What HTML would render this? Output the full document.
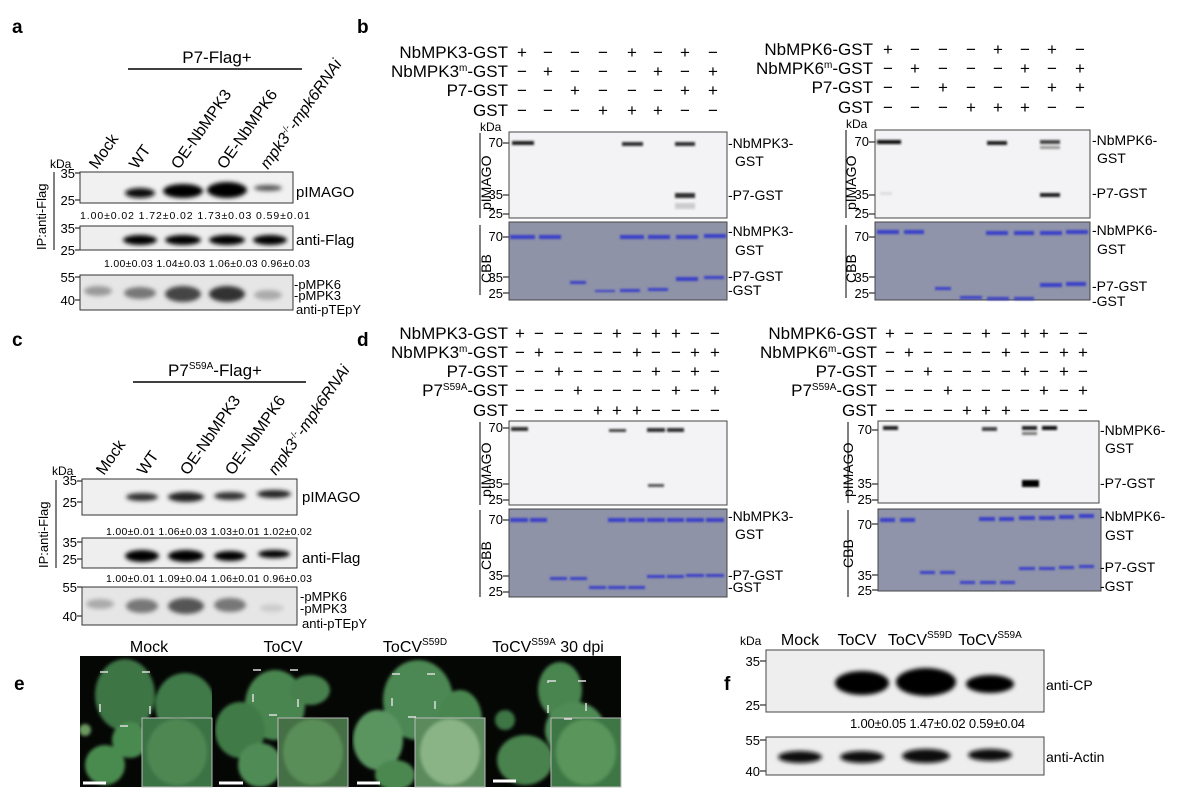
<!DOCTYPE html>
<html><head><meta charset="utf-8"><style>
html,body{margin:0;padding:0;background:#fff}
svg{display:block;font-family:"Liberation Sans",Arial,sans-serif}
</style></head><body>
<svg width="1191" height="790" viewBox="0 0 1191 790" xmlns="http://www.w3.org/2000/svg">
<defs>
<filter id="b" x="-50%" y="-200%" width="200%" height="500%"><feGaussianBlur stdDeviation="2"/></filter>
<filter id="b1" x="-50%" y="-200%" width="200%" height="500%"><feGaussianBlur stdDeviation="1"/></filter>
<filter id="lf" x="-20%" y="-20%" width="140%" height="140%"><feGaussianBlur stdDeviation="1.5"/></filter>
<clipPath id="c1"><rect x="80" y="656" width="132" height="131"/></clipPath>
<clipPath id="c2"><rect x="215" y="656" width="133" height="131"/></clipPath>
<clipPath id="c3"><rect x="352" y="656" width="133" height="131"/></clipPath>
<clipPath id="c4"><rect x="489" y="656" width="132" height="131"/></clipPath>
</defs>
<g font-weight="bold" font-size="19">
<text x="12" y="33">a</text><text x="357" y="33">b</text>
<text x="12" y="346">c</text><text x="357" y="346">d</text>
<text x="14" y="690">e</text><text x="724" y="690">f</text>
</g>

<!-- ===== Panel a ===== -->
<text x="217" y="63" font-size="17" text-anchor="middle">P7-Flag+</text>
<line x1="128" y1="69" x2="302" y2="69" stroke="#000" stroke-width="1.5"/>
<g font-size="16">
<text transform="translate(97,170) rotate(-55)">Mock</text>
<text transform="translate(137,170) rotate(-55)">WT</text>
<text transform="translate(179,170) rotate(-55)">OE-NbMPK3</text>
<text transform="translate(225,170) rotate(-55)">OE-NbMPK6</text>
<text transform="translate(268,170) rotate(-55)"><tspan font-style="italic">mpk3</tspan><tspan font-size="9" dy="-6">-/-</tspan><tspan dy="6" font-style="italic">-mpk6RNAi</tspan></text>
</g>
<text x="50" y="168" font-size="12">kDa</text>
<text transform="translate(46,250) rotate(-90)" font-size="13">IP:anti-Flag</text>
<line x1="54" y1="172" x2="54" y2="250" stroke="#000"/>
<g font-size="13" text-anchor="end">
<text x="75" y="178">35</text><text x="75" y="205">25</text>
<text x="75" y="233">35</text><text x="75" y="255">25</text>
<text x="75" y="282">55</text><text x="75" y="305">40</text>
</g>
<g stroke="#000"><line x1="75" y1="173" x2="80" y2="173"/><line x1="75" y1="200" x2="80" y2="200"/><line x1="75" y1="228" x2="80" y2="228"/><line x1="75" y1="250" x2="80" y2="250"/><line x1="75" y1="277" x2="80" y2="277"/><line x1="75" y1="300" x2="80" y2="300"/></g>
<rect x="80" y="172" width="213" height="31" fill="#f1f1f1" stroke="#333"/>
<g filter="url(#b)">
<ellipse cx="140" cy="193" rx="15" ry="5" fill="#111"/>
<ellipse cx="183" cy="191" rx="20" ry="7" fill="#000"/>
<ellipse cx="227" cy="190" rx="20" ry="8" fill="#000"/>
<ellipse cx="268" cy="188" rx="14" ry="3" fill="#555"/>
</g>
<text x="296" y="197" font-size="15">pIMAGO</text>
<text x="80" y="219" font-size="10.5" textLength="230">1.00±0.02 1.72±0.02 1.73±0.03 0.59±0.01</text>
<rect x="80" y="226" width="213" height="24" fill="#eee" stroke="#333"/>
<g filter="url(#b)">
<ellipse cx="140" cy="240" rx="17" ry="5" fill="#000"/>
<ellipse cx="183" cy="240" rx="18" ry="5" fill="#000"/>
<ellipse cx="227" cy="240" rx="18" ry="5" fill="#000"/>
<ellipse cx="270" cy="240" rx="17" ry="5" fill="#000"/>
</g>
<text x="296" y="245" font-size="15">anti-Flag</text>
<text x="104" y="267" font-size="10.5" textLength="206">1.00±0.03 1.04±0.03 1.06±0.03 0.96±0.03</text>
<rect x="80" y="275" width="213" height="35" fill="#e6e6e6" stroke="#333"/>
<g filter="url(#b)">
<ellipse cx="98" cy="291" rx="14" ry="5" fill="#999"/>
<ellipse cx="140" cy="293" rx="16" ry="6" fill="#777"/>
<ellipse cx="183" cy="294" rx="18" ry="8" fill="#444"/>
<ellipse cx="227" cy="294" rx="18" ry="8" fill="#333"/>
<ellipse cx="268" cy="295" rx="14" ry="5" fill="#aaa"/>
</g>
<g font-size="13"><text x="294" y="289">-pMPK6</text><text x="294" y="300">-pMPK3</text><text x="296" y="314">anti-pTEpY</text></g>

<!-- ===== Panel c ===== -->
<text x="215" y="376" font-size="17" text-anchor="middle">P7<tspan font-size="10" dy="-7">S59A</tspan><tspan dy="7">-Flag+</tspan></text>
<line x1="133" y1="382" x2="306" y2="382" stroke="#000" stroke-width="1.5"/>
<g font-size="16">
<text transform="translate(104,476) rotate(-55)">Mock</text>
<text transform="translate(145,476) rotate(-55)">WT</text>
<text transform="translate(188,476) rotate(-55)">OE-NbMPK3</text>
<text transform="translate(233,476) rotate(-55)">OE-NbMPK6</text>
<text transform="translate(276,476) rotate(-55)"><tspan font-style="italic">mpk3</tspan><tspan font-size="9" dy="-6">-/-</tspan><tspan dy="6" font-style="italic">-mpk6RNAi</tspan></text>
</g>
<text x="52" y="475" font-size="12">kDa</text>
<text transform="translate(48,568) rotate(-90)" font-size="13">IP:anti-Flag</text>
<line x1="56" y1="480" x2="56" y2="568" stroke="#000"/>
<g font-size="13" text-anchor="end">
<text x="77" y="485">35</text><text x="77" y="507">25</text>
<text x="77" y="547">35</text><text x="77" y="564">25</text>
<text x="77" y="592">55</text><text x="77" y="621">40</text>
</g>
<g stroke="#000"><line x1="77" y1="481" x2="82" y2="481"/><line x1="77" y1="502" x2="82" y2="502"/><line x1="77" y1="542" x2="82" y2="542"/><line x1="77" y1="559" x2="82" y2="559"/><line x1="77" y1="587" x2="82" y2="587"/><line x1="77" y1="616" x2="82" y2="616"/></g>
<rect x="82" y="479" width="215" height="36" fill="#f0f0f0" stroke="#333"/>
<g filter="url(#b)">
<ellipse cx="142" cy="497" rx="16" ry="4" fill="#333"/>
<ellipse cx="186" cy="497" rx="18" ry="5" fill="#222"/>
<ellipse cx="230" cy="496" rx="16" ry="4" fill="#333"/>
<ellipse cx="274" cy="494" rx="17" ry="4" fill="#222"/>
</g>
<text x="302" y="502" font-size="15">pIMAGO</text>
<text x="106" y="535" font-size="10.5" textLength="206">1.00±0.01 1.06±0.03 1.03±0.01 1.02±0.02</text>
<rect x="82" y="538" width="215" height="30" fill="#eee" stroke="#333"/>
<g filter="url(#b)">
<ellipse cx="142" cy="556" rx="17" ry="6" fill="#000"/>
<ellipse cx="186" cy="556" rx="18" ry="6" fill="#000"/>
<ellipse cx="230" cy="556" rx="16" ry="5" fill="#000"/>
<ellipse cx="274" cy="554" rx="16" ry="4" fill="#000"/>
</g>
<text x="302" y="563" font-size="15">anti-Flag</text>
<text x="106" y="582" font-size="10.5" textLength="206">1.00±0.01 1.09±0.04 1.06±0.01 0.96±0.03</text>
<rect x="82" y="587" width="215" height="38" fill="#e6e6e6" stroke="#333"/>
<g filter="url(#b)">
<ellipse cx="100" cy="604" rx="14" ry="5" fill="#aaa"/>
<ellipse cx="142" cy="606" rx="16" ry="7" fill="#777"/>
<ellipse cx="186" cy="606" rx="18" ry="8" fill="#555"/>
<ellipse cx="230" cy="605" rx="16" ry="7" fill="#777"/>
<ellipse cx="272" cy="608" rx="12" ry="4" fill="#ccc"/>
</g>
<g font-size="13"><text x="300" y="601">-pMPK6</text><text x="300" y="613">-pMPK3</text><text x="302" y="628">anti-pTEpY</text></g>

<!-- ===== Panel b left ===== -->
<g font-size="17" text-anchor="end">
<text x="508" y="58">NbMPK3-GST</text>
<text x="508" y="77">NbMPK3<tspan font-size="10" dy="-6">m</tspan><tspan dy="6">-GST</tspan></text>
<text x="508" y="96">P7-GST</text>
<text x="508" y="116">GST</text>
</g>
<g font-size="17" text-anchor="middle">
<text x="522 548 575 603 632 658 685 713" y="58">+−−−+−+−</text>
<text x="522 548 575 603 632 658 685 713" y="77">−+−−−+−+</text>
<text x="522 548 575 603 632 658 685 713" y="96">−−+−−−++</text>
<text x="522 548 575 603 632 658 685 713" y="116">−−−+++−−</text>
</g>
<text x="480" y="131" font-size="12">kDa</text>
<text transform="translate(491,210) rotate(-90)" font-size="14">pIMAGO</text>
<line x1="480" y1="133" x2="480" y2="218" stroke="#000"/>
<text transform="translate(491,283) rotate(-90)" font-size="14">CBB</text>
<line x1="480" y1="225" x2="480" y2="295" stroke="#000"/>
<g font-size="13" text-anchor="end">
<text x="503" y="147">70</text><text x="503" y="199">35</text><text x="503" y="218">25</text>
<text x="503" y="241">70</text><text x="503" y="282">35</text><text x="503" y="298">25</text>
</g>
<g stroke="#000"><line x1="503" y1="143" x2="509" y2="143"/><line x1="503" y1="195" x2="509" y2="195"/><line x1="503" y1="214" x2="509" y2="214"/><line x1="503" y1="237" x2="509" y2="237"/><line x1="503" y1="277" x2="509" y2="277"/><line x1="503" y1="293" x2="509" y2="293"/></g>
<rect x="509" y="132" width="218" height="86" fill="#f3f3f5" stroke="#444"/>
<g filter="url(#b1)">
<rect x="512" y="141" width="22" height="4" fill="#222"/>
<rect x="622" y="142" width="21" height="4" fill="#333"/>
<rect x="675" y="142" width="20" height="4" fill="#333"/>
<rect x="675" y="193" width="20" height="5" fill="#333"/>
<rect x="675" y="203" width="20" height="6" fill="#ccc"/>
</g>
<rect x="509" y="222" width="218" height="78" fill="#8e93a8" stroke="#444"/>
<g filter="url(#b1)" fill="#3a3fc8">
<rect x="510" y="235" width="25" height="4"/><rect x="539" y="235" width="22" height="4"/>
<rect x="620" y="235" width="24" height="4"/><rect x="648" y="235" width="22" height="4"/>
<rect x="676" y="235" width="22" height="4"/><rect x="704" y="234" width="22" height="4"/>
<rect x="570" y="281" width="16" height="3"/><rect x="595" y="290" width="20" height="2"/>
<rect x="620" y="289" width="20" height="3"/><rect x="648" y="288" width="20" height="3"/>
<rect x="676" y="277" width="22" height="4"/><rect x="704" y="276" width="20" height="3"/>
</g>
<g font-size="14"><text x="728" y="148">-NbMPK3-</text><text x="735" y="166">GST</text><text x="728" y="200">-P7-GST</text>
<text x="728" y="236">-NbMPK3-</text><text x="735" y="255">GST</text><text x="728" y="281">-P7-GST</text><text x="728" y="295">-GST</text></g>

<!-- ===== Panel b right ===== -->
<g font-size="17" text-anchor="end">
<text x="873" y="55">NbMPK6-GST</text>
<text x="873" y="74">NbMPK6<tspan font-size="10" dy="-6">m</tspan><tspan dy="6">-GST</tspan></text>
<text x="873" y="93">P7-GST</text>
<text x="873" y="113">GST</text>
</g>
<g font-size="17" text-anchor="middle">
<text x="888 915 943 971 998 1025 1052 1080" y="55">+−−−+−+−</text>
<text x="888 915 943 971 998 1025 1052 1080" y="74">−+−−−+−+</text>
<text x="888 915 943 971 998 1025 1052 1080" y="93">−−+−−−++</text>
<text x="888 915 943 971 998 1025 1052 1080" y="113">−−−+++−−</text>
</g>
<text x="846" y="128" font-size="12">kDa</text>
<text transform="translate(856,210) rotate(-90)" font-size="14">pIMAGO</text>
<line x1="846" y1="130" x2="846" y2="218" stroke="#000"/>
<text transform="translate(856,283) rotate(-90)" font-size="14">CBB</text>
<line x1="846" y1="225" x2="846" y2="298" stroke="#000"/>
<g font-size="13" text-anchor="end">
<text x="869" y="146">70</text><text x="869" y="199">35</text><text x="869" y="218">25</text>
<text x="869" y="241">70</text><text x="869" y="282">35</text><text x="869" y="298">25</text>
</g>
<g stroke="#000"><line x1="869" y1="142" x2="875" y2="142"/><line x1="869" y1="195" x2="875" y2="195"/><line x1="869" y1="214" x2="875" y2="214"/><line x1="869" y1="237" x2="875" y2="237"/><line x1="869" y1="277" x2="875" y2="277"/><line x1="869" y1="293" x2="875" y2="293"/></g>
<rect x="875" y="130" width="215" height="88" fill="#f3f3f5" stroke="#444"/>
<g filter="url(#b1)">
<rect x="877" y="140" width="24" height="4" fill="#111"/>
<rect x="987" y="141" width="20" height="4" fill="#222"/>
<rect x="1040" y="140" width="20" height="4" fill="#444"/>
<rect x="1040" y="146" width="20" height="3" fill="#999"/>
<rect x="1040" y="193" width="20" height="4" fill="#222"/>
<rect x="880" y="192" width="12" height="3" fill="#ddd"/>
</g>
<rect x="875" y="222" width="215" height="78" fill="#8f94aa" stroke="#444"/>
<g filter="url(#b1)" fill="#3a3fc8">
<rect x="877" y="230" width="22" height="4"/><rect x="904" y="230" width="20" height="4"/>
<rect x="986" y="231" width="22" height="4"/><rect x="1014" y="231" width="20" height="4"/>
<rect x="1040" y="231" width="22" height="4"/><rect x="1066" y="230" width="22" height="4"/>
<rect x="935" y="287" width="16" height="3"/><rect x="960" y="296" width="22" height="3"/>
<rect x="987" y="297" width="22" height="3"/><rect x="1014" y="297" width="20" height="3"/>
<rect x="1040" y="283" width="22" height="4"/><rect x="1066" y="282" width="20" height="4"/>
</g>
<g font-size="14"><text x="1092" y="145">-NbMPK6-</text><text x="1097" y="163">GST</text><text x="1092" y="198">-P7-GST</text>
<text x="1092" y="235">-NbMPK6-</text><text x="1097" y="254">GST</text><text x="1092" y="291">-P7-GST</text><text x="1092" y="306">-GST</text></g>

<!-- ===== Panel d left ===== -->
<g font-size="17" text-anchor="end">
<text x="508" y="339">NbMPK3-GST</text>
<text x="508" y="358">NbMPK3<tspan font-size="10" dy="-6">m</tspan><tspan dy="6">-GST</tspan></text>
<text x="508" y="377">P7-GST</text>
<text x="508" y="396">P7<tspan font-size="10" dy="-6">S59A</tspan><tspan dy="6">-GST</tspan></text>
<text x="508" y="416">GST</text>
</g>
<g font-size="17" text-anchor="middle">
<text x="520 539 559 578 598 617 637 656 676 695 715" y="339">+−−−−+−++−−</text>
<text x="520 539 559 578 598 617 637 656 676 695 715" y="358">−+−−−−+−−++</text>
<text x="520 539 559 578 598 617 637 656 676 695 715" y="377">−−+−−−−+−+−</text>
<text x="520 539 559 578 598 617 637 656 676 695 715" y="396">−−−+−−−−+−+</text>
<text x="520 539 559 578 598 617 637 656 676 695 715" y="416">−−−−+++−−−−</text>
</g>
<text transform="translate(491,497) rotate(-90)" font-size="14">pIMAGO</text>
<line x1="480" y1="422" x2="480" y2="505" stroke="#000"/>
<text transform="translate(491,570) rotate(-90)" font-size="14">CBB</text>
<line x1="480" y1="510" x2="480" y2="597" stroke="#000"/>
<g font-size="13" text-anchor="end">
<text x="503" y="432">70</text><text x="503" y="488">35</text><text x="503" y="504">25</text>
<text x="503" y="524">70</text><text x="503" y="580">35</text><text x="503" y="596">25</text>
</g>
<g stroke="#000"><line x1="503" y1="428" x2="509" y2="428"/><line x1="503" y1="484" x2="509" y2="484"/><line x1="503" y1="500" x2="509" y2="500"/><line x1="503" y1="520" x2="509" y2="520"/><line x1="503" y1="576" x2="509" y2="576"/><line x1="503" y1="592" x2="509" y2="592"/></g>
<rect x="509" y="421" width="218" height="84" fill="#f3f3f5" stroke="#444"/>
<g filter="url(#b1)">
<rect x="511" y="427" width="17" height="4" fill="#333"/>
<rect x="609" y="429" width="17" height="3" fill="#444"/>
<rect x="647" y="428" width="18" height="4" fill="#333"/>
<rect x="667" y="428" width="17" height="4" fill="#333"/>
<rect x="648" y="484" width="16" height="3" fill="#555"/>
</g>
<rect x="509" y="509" width="218" height="88" fill="#8e93a8" stroke="#444"/>
<g filter="url(#b1)" fill="#3a3fc8">
<rect x="510" y="518" width="18" height="4"/><rect x="530" y="518" width="17" height="4"/>
<rect x="608" y="518" width="18" height="4"/><rect x="628" y="518" width="17" height="4"/>
<rect x="647" y="518" width="18" height="4"/><rect x="667" y="518" width="17" height="4"/>
<rect x="686" y="518" width="18" height="4"/><rect x="706" y="518" width="18" height="4"/>
<rect x="550" y="577" width="17" height="3"/><rect x="570" y="577" width="17" height="3"/>
<rect x="589" y="586" width="17" height="3"/><rect x="608" y="586" width="18" height="3"/><rect x="628" y="586" width="17" height="3"/>
<rect x="647" y="575" width="18" height="3"/><rect x="667" y="575" width="17" height="3"/><rect x="686" y="574" width="18" height="3"/><rect x="706" y="574" width="18" height="3"/>
</g>
<g font-size="14"><text x="728" y="521">-NbMPK3-</text><text x="735" y="539">GST</text><text x="728" y="580">-P7-GST</text><text x="728" y="592">-GST</text></g>

<!-- ===== Panel d right ===== -->
<g font-size="17" text-anchor="end">
<text x="877" y="339">NbMPK6-GST</text>
<text x="877" y="358">NbMPK6<tspan font-size="10" dy="-6">m</tspan><tspan dy="6">-GST</tspan></text>
<text x="877" y="377">P7-GST</text>
<text x="877" y="396">P7<tspan font-size="10" dy="-6">S59A</tspan><tspan dy="6">-GST</tspan></text>
<text x="877" y="416">GST</text>
</g>
<g font-size="17" text-anchor="middle">
<text x="890 909 928 948 967 986 1006 1025 1044 1064 1083" y="339">+−−−−+−++−−</text>
<text x="890 909 928 948 967 986 1006 1025 1044 1064 1083" y="358">−+−−−−+−−++</text>
<text x="890 909 928 948 967 986 1006 1025 1044 1064 1083" y="377">−−+−−−−+−+−</text>
<text x="890 909 928 948 967 986 1006 1025 1044 1064 1083" y="396">−−−+−−−−+−+</text>
<text x="890 909 928 948 967 986 1006 1025 1044 1064 1083" y="416">−−−−+++−−−−</text>
</g>
<text transform="translate(853,497) rotate(-90)" font-size="14">pIMAGO</text>
<line x1="848" y1="422" x2="848" y2="503" stroke="#000"/>
<text transform="translate(853,568) rotate(-90)" font-size="14">CBB</text>
<line x1="848" y1="510" x2="848" y2="597" stroke="#000"/>
<g font-size="13" text-anchor="end">
<text x="872" y="434">70</text><text x="872" y="488">35</text><text x="872" y="504">25</text>
<text x="872" y="529">70</text><text x="872" y="580">35</text><text x="872" y="595">25</text>
</g>
<g stroke="#000"><line x1="872" y1="430" x2="878" y2="430"/><line x1="872" y1="484" x2="878" y2="484"/><line x1="872" y1="500" x2="878" y2="500"/><line x1="872" y1="524" x2="878" y2="524"/><line x1="872" y1="575" x2="878" y2="575"/><line x1="872" y1="590" x2="878" y2="590"/></g>
<rect x="878" y="421" width="221" height="82" fill="#f3f3f5" stroke="#444"/>
<g filter="url(#b1)">
<rect x="883" y="426" width="15" height="4" fill="#222"/>
<rect x="982" y="427" width="15" height="4" fill="#444"/>
<rect x="1022" y="426" width="15" height="4" fill="#222"/>
<rect x="1022" y="432" width="15" height="3" fill="#777"/>
<rect x="1042" y="426" width="15" height="4" fill="#111"/>
<rect x="1022" y="480" width="17" height="7" fill="#000"/>
</g>
<rect x="878" y="509" width="223" height="82" fill="#8f94aa" stroke="#444"/>
<g filter="url(#b1)" fill="#3a3fc8">
<rect x="880" y="518" width="15" height="4"/><rect x="900" y="518" width="15" height="4"/>
<rect x="979" y="517" width="16" height="4"/><rect x="999" y="517" width="15" height="4"/>
<rect x="1019" y="516" width="16" height="4"/><rect x="1039" y="516" width="16" height="4"/>
<rect x="1059" y="515" width="15" height="4"/><rect x="1079" y="514" width="15" height="4"/>
<rect x="920" y="571" width="15" height="3"/><rect x="940" y="571" width="15" height="3"/>
<rect x="960" y="581" width="15" height="3"/><rect x="980" y="581" width="16" height="3"/><rect x="1000" y="581" width="15" height="3"/>
<rect x="1019" y="567" width="16" height="3"/><rect x="1039" y="567" width="16" height="3"/><rect x="1059" y="566" width="15" height="3"/><rect x="1079" y="565" width="15" height="3"/>
</g>
<g font-size="14"><text x="1100" y="435">-NbMPK6-</text><text x="1105" y="453">GST</text><text x="1100" y="488">-P7-GST</text>
<text x="1100" y="521">-NbMPK6-</text><text x="1105" y="540">GST</text><text x="1100" y="572">-P7-GST</text><text x="1100" y="591">-GST</text></g>

<!-- ===== Panel e ===== -->
<g font-size="16" text-anchor="middle">
<text x="149" y="652">Mock</text>
<text x="283" y="652">ToCV</text>
<text x="415" y="652">ToCV<tspan font-size="10" dy="-7">S59D</tspan></text>
<text x="548" y="652">ToCV<tspan font-size="10" dy="-7">S59A</tspan><tspan dy="7" font-size="16"> 30 dpi</tspan></text>
</g>
<rect x="80" y="656" width="541" height="131" fill="#050705"/>
<g clip-path="url(#c1)" filter="url(#lf)">
<ellipse cx="125" cy="695" rx="30" ry="36" fill="#3c7445"/>
<ellipse cx="185" cy="705" rx="30" ry="32" fill="#407a48"/>
<ellipse cx="130" cy="740" rx="18" ry="18" fill="#4a8a50"/>
<ellipse cx="105" cy="765" rx="20" ry="20" fill="#4a8a50"/>
<ellipse cx="85" cy="730" rx="6" ry="6" fill="#6a9a60"/>
</g>
<g clip-path="url(#c2)" filter="url(#lf)">
<ellipse cx="275" cy="705" rx="30" ry="35" fill="#4a8550"/>
<ellipse cx="240" cy="730" rx="25" ry="28" fill="#3f7a47"/>
<ellipse cx="310" cy="690" rx="20" ry="15" fill="#47804d"/>
<ellipse cx="260" cy="765" rx="22" ry="22" fill="#508c55"/>
</g>
<g clip-path="url(#c3)" filter="url(#lf)">
<ellipse cx="418" cy="700" rx="35" ry="40" fill="#4c8852"/>
<ellipse cx="378" cy="740" rx="25" ry="30" fill="#5a9560"/>
<ellipse cx="460" cy="720" rx="22" ry="30" fill="#4a864f"/>
<ellipse cx="395" cy="775" rx="20" ry="15" fill="#4c8850"/>
</g>
<g clip-path="url(#c4)" filter="url(#lf)">
<ellipse cx="560" cy="690" rx="22" ry="28" fill="#4a8550"/>
<ellipse cx="575" cy="730" rx="30" ry="28" fill="#4f8c55"/>
<ellipse cx="525" cy="760" rx="28" ry="25" fill="#48824e"/>
<ellipse cx="505" cy="720" rx="10" ry="10" fill="#3e7545"/>
</g>
<rect x="142" y="718" width="70" height="69" fill="#3c7345" stroke="#bbb"/>
<rect x="278" y="718" width="70" height="69" fill="#456f45" stroke="#bbb"/>
<rect x="415" y="718" width="70" height="69" fill="#5b8a5c" stroke="#bbb"/>
<rect x="551" y="718" width="70" height="69" fill="#3e7645" stroke="#bbb"/>
<g filter="url(#lf)">
<ellipse cx="177" cy="752" rx="30" ry="33" fill="#4f8753"/>
<ellipse cx="313" cy="752" rx="30" ry="33" fill="#5a8e58"/>
<ellipse cx="450" cy="752" rx="30" ry="33" fill="#8ab486"/>
<ellipse cx="586" cy="752" rx="30" ry="33" fill="#5a955c"/>
</g>
<g fill="none" stroke="#ddd" stroke-width="1.5">
<rect x="100" y="672" width="50" height="54" stroke-dasharray="8 34"/>
<rect x="253" y="670" width="45" height="45" stroke-dasharray="8 29"/>
<rect x="392" y="674" width="43" height="43" stroke-dasharray="8 27"/>
<rect x="548" y="681" width="38" height="38" stroke-dasharray="8 22"/>
</g>
<g stroke="#fff" stroke-width="3"><line x1="83" y1="783" x2="106" y2="783"/><line x1="219" y1="783" x2="243" y2="783"/><line x1="357" y1="783" x2="380" y2="783"/><line x1="493" y1="781" x2="516" y2="781"/></g>

<!-- ===== Panel f ===== -->
<g font-size="16" text-anchor="middle">
<text x="800" y="645">Mock</text><text x="857" y="645">ToCV</text>
<text x="920" y="645">ToCV<tspan font-size="10" dy="-7">S59D</tspan></text>
<text x="990" y="645">ToCV<tspan font-size="10" dy="-7">S59A</tspan></text>
</g>
<text x="740" y="645" font-size="12">kDa</text>
<g font-size="13" text-anchor="end"><text x="760" y="666">35</text><text x="760" y="710">25</text><text x="760" y="745">55</text><text x="760" y="776">40</text></g>
<g stroke="#000"><line x1="760" y1="661" x2="766" y2="661"/><line x1="760" y1="705" x2="766" y2="705"/><line x1="760" y1="740" x2="766" y2="740"/><line x1="760" y1="771" x2="766" y2="771"/></g>
<rect x="766" y="650" width="278" height="62" fill="#eeeeee" stroke="#444"/>
<g filter="url(#b)">
<ellipse cx="862" cy="683" rx="27" ry="12" fill="#000"/>
<ellipse cx="926" cy="682" rx="30" ry="14" fill="#000"/>
<ellipse cx="990" cy="684" rx="24" ry="9" fill="#000"/>
</g>
<text x="1046" y="690" font-size="14">anti-CP</text>
<text x="850" y="728" font-size="13" textLength="175">1.00±0.05 1.47±0.02 0.59±0.04</text>
<rect x="766" y="737" width="278" height="38" fill="#eeeeee" stroke="#444"/>
<g filter="url(#b)">
<ellipse cx="800" cy="757" rx="22" ry="6" fill="#111"/>
<ellipse cx="862" cy="757" rx="22" ry="6" fill="#111"/>
<ellipse cx="926" cy="756" rx="24" ry="7" fill="#111"/>
<ellipse cx="990" cy="755" rx="22" ry="6" fill="#111"/>
</g>
<text x="1046" y="762" font-size="14">anti-Actin</text>
</svg>
</body></html>
